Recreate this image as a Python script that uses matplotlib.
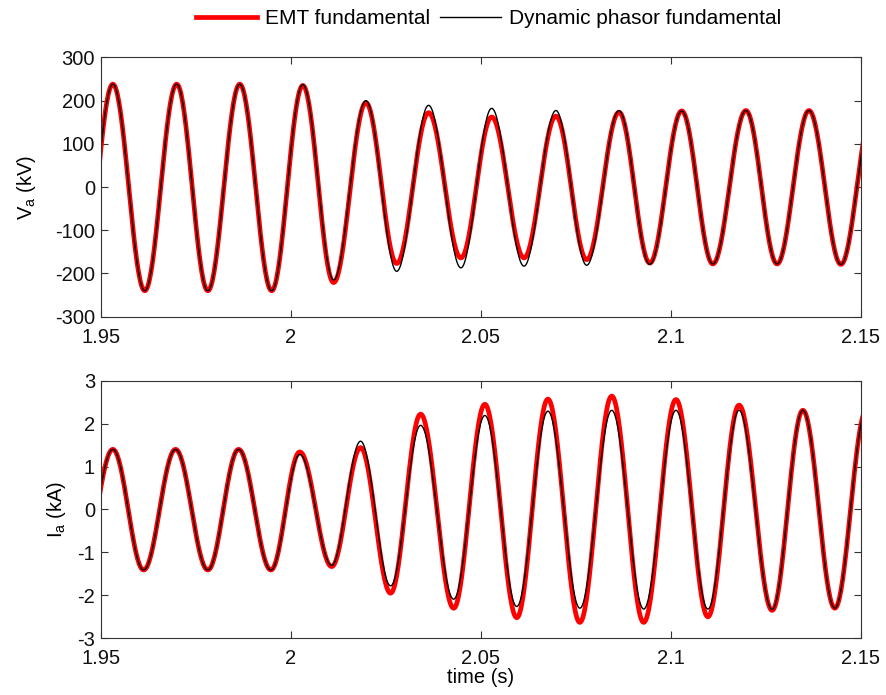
import numpy as np
import matplotlib
matplotlib.use("Agg")
import matplotlib.pyplot as plt

plt.rcParams['font.family'] = ['Liberation Sans', 'DejaVu Sans']
plt.rcParams['mathtext.fontset'] = 'custom'
plt.rcParams['mathtext.rm'] = 'Liberation Sans'
plt.rcParams['mathtext.it'] = 'Liberation Sans'
plt.rcParams['axes.unicode_minus'] = False

# ---- data: extrema (time, value) ----
# voltage, alternating peak / trough, incl. one point outside each end
v_t = [1.9449, 1.9532, 1.9616, 1.9700, 1.9782, 1.9866, 1.9950, 2.0032, 2.0113,
       2.0198, 2.0279, 2.0363, 2.0448, 2.0529, 2.0614, 2.0698, 2.0779, 2.0864,
       2.0945, 2.1029, 2.1111, 2.1198, 2.1280, 2.1364, 2.1448, 2.1532]
v_emt = [-238, 238, -240, 238, -240, 238, -240, 235, -221,
         195, -177, 172, -164, 162, -164, 164, -168, 173,
         -176, 176, -178, 177, -178, 177, -179, 177]
v_dp = [-238, 238, -240, 238, -240, 238, -240, 237, -215,
        200, -195, 189, -187, 182, -183, 177, -181, 177,
        -179, 176, -178, 177, -178, 177, -179, 177]

# current
i_t = [1.9449, 1.9532, 1.9613, 1.9697, 1.9782, 1.9863, 1.9948, 2.0024, 2.0108,
       2.0184, 2.0263, 2.0342, 2.0429, 2.0511, 2.0595, 2.0677, 2.0761, 2.0845,
       2.0929, 2.1014, 2.1098, 2.1180, 2.1267, 2.1348, 2.1432, 2.1515]
i_emt = [-1.41, 1.40, -1.41, 1.40, -1.41, 1.40, -1.41, 1.34, -1.33,
         1.44, -1.95, 2.22, -2.30, 2.45, -2.52, 2.57, -2.63, 2.64,
         -2.63, 2.56, -2.50, 2.43, -2.35, 2.31, -2.30, 2.31]
i_dp = [-1.41, 1.40, -1.41, 1.40, -1.41, 1.40, -1.41, 1.28, -1.30,
        1.59, -1.78, 1.96, -2.09, 2.19, -2.26, 2.29, -2.30, 2.31,
        -2.32, 2.31, -2.32, 2.31, -2.33, 2.31, -2.30, 2.31]

x_ticks = [1.95, 2, 2.05, 2.1, 2.15]
x_ticklabels = ['1.95', '2', '2.05', '2.1', '2.15']


def wave(tk, vk, n=40):
    # half-cosine segments joining consecutive extrema
    ts, ys = [], []
    for k in range(len(tk) - 1):
        s = np.linspace(0, 1, n, endpoint=False)
        a, b = vk[k], vk[k + 1]
        ts.append(tk[k] + s * (tk[k + 1] - tk[k]))
        ys.append((a + b) / 2 + (a - b) / 2 * np.cos(np.pi * s))
    return np.concatenate(ts), np.concatenate(ys)


fs = 14.5
fig = plt.figure(figsize=(8.87, 6.95), dpi=100)
ax1 = fig.add_axes([0.1135, 0.5443, 0.8568, 0.3732])
ax2 = fig.add_axes([0.1135, 0.0816, 0.8568, 0.3707])

for ax, tk, emt, dp in [(ax1, v_t, v_emt, v_dp), (ax2, i_t, i_emt, i_dp)]:
    t, y = wave(tk, emt)
    l1, = ax.plot(t, y, color='#ff0000', lw=3.4, label='EMT fundamental')
    t, y = wave(tk, dp)
    l2, = ax.plot(t, y, color='black', lw=1.0, label='Dynamic phasor fundamental')
    ax.set_xlim(1.95, 2.15)
    ax.set_xticks(x_ticks)
    ax.set_xticklabels(x_ticklabels)
    ax.tick_params(direction='in', top=True, right=True, labelsize=fs,
                   length=5, width=0.8, colors='#333333', labelcolor='#111111')
    ax.tick_params(axis='y', pad=4)
    ax.tick_params(axis='x', pad=8)
    for sp in ax.spines.values():
        sp.set_color('#333333')
        sp.set_linewidth(0.8)

ax1.set_ylim(-300, 300)
ax1.set_yticks(np.arange(-300, 301, 100))
ax1.set_ylabel('V$_\\mathrm{a}$ (kV)', fontsize=fs, labelpad=12)
ax2.set_ylim(-3, 3)
ax2.set_yticks(np.arange(-3, 4, 1))
ax2.set_ylabel('I$_\\mathrm{a}$ (kA)', fontsize=fs, labelpad=7)
ax2.set_xlabel('time (s)', fontsize=fs, labelpad=0)

fig.legend(handles=[l1, l2], loc='center', bbox_to_anchor=(0.551, 0.973),
           ncol=2, frameon=False, fontsize=15, handlelength=2.9,
           columnspacing=0.5, handletextpad=0.4)

fig.savefig('out.png', dpi=100)
